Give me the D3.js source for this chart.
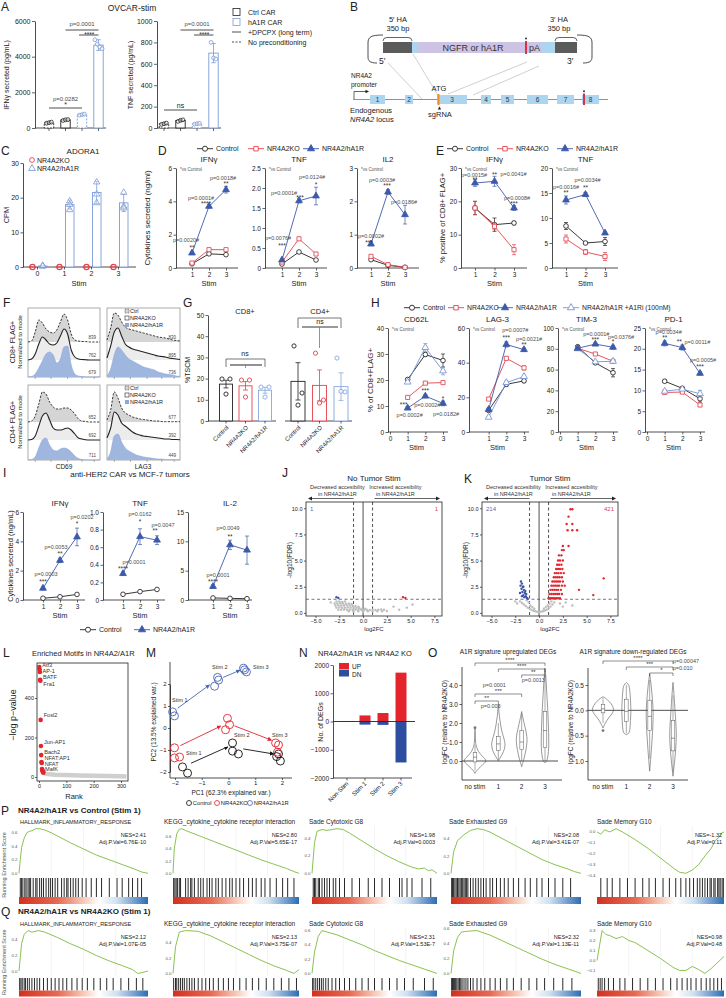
<!DOCTYPE html>
<html>
<head>
<meta charset="utf-8">
<title>NR4A2/hA1R CAR figure</title>
<script src="https://cdn.jsdelivr.net/npm/d3@7/dist/d3.min.js"></script>
<style>
  body { margin: 0; background: #fff; overflow: hidden; }
  svg text { font-family: "Liberation Sans", Arial, Helvetica, sans-serif; }
</style>
</head>
<body>
<script>
// ---------------- data ----------------
// A
const aCar = ["Ctrl CAR", "Ctrl CAR", "hA1R CAR", "hA1R CAR"];
const aCond = ["No preconditioning", "+DPCPX (long term)", "No preconditioning", "+DPCPX (long term)"];
const aIfnMean = [300, 450, 750, 4650];
const aIfnPts = [[270, 300, 330], [420, 460, 470], [720, 750, 780], [4950, 4700, 4550, 4450]];
const aIfnSd = [40, 35, 40, 300];
const aTnfMean = [40, 70, 40, 700];
const aTnfPts = [[34, 40, 46], [62, 72, 76], [36, 40, 44], [800, 655, 645]];
const aTnfSd = [8, 8, 6, 90];
// B (locus schematic, exon extents in locus units)
const bExons = [[17, 32], [52, 60], [84, 114], [128, 138], [148, 161], [174, 195], [204, 221], [229, 246]];
// C
const cStim = ["0", "1", "2", "3"];
const cKO = [0, 0, 0, 0];
const cA1R = [0.3, 18, 21.5, 18.5];
const cA1RPts = [[0.2, 0.3, 0.4], [19, 18, 16.5], [24.5, 21, 18.5], [21.5, 17.5, 17]];
const cA1RSd = [0.1, 1.3, 3.2, 2.5];
// D
const stims = [1, 2, 3];
const dIfn = [[0.25, 0.85, 0.8], [0.3, 1.1, 1.1], [0.9, 3.7, 4.7]];
const dTnf = [[0.1, 0.4, 0.2], [0.15, 0.73, 0.35], [0.2, 1.68, 1.8]];
const dIl2 = [[0.25, 0.08, 0.02], [0.35, 0.1, 0.02], [0.72, 2.28, 1.6]];
const dA1RSd = [[0.05, 0.1, 0.2], [0.03, 0.05, 0.22], [0.05, 0.07, 0.28]];
// E
const eIfn = [[18, 13, 13.5], [18, 12.5, 5.5], [25.5, 26, 18]];
const eTnf = [[8.4, 5, 5.3], [5.8, 3.2, 2.3], [13.6, 14.7, 7]];
const eIfnSd = [[2, 2, 0.5], [2, 1, 1.5], [1, 1.5, 0.7]];
const eTnfSd = [[0.7, 0.2, 0.8], [0.8, 0.5, 0.8], [0.8, 0.4, 0.3]];
// F (histogram heights, normalized to mode, 21 bins across the axis)
const fCD8_CD69 = [
  [0, 1, 10, 22, 19, 13, 10, 9, 12, 20, 28, 22, 8, 2, 1, 0.5, 0.5, 0, 0, 0, 0],
  [0, 1, 6, 16, 23, 20, 16, 15, 17, 24, 31, 26, 10, 3, 1, 0.5, 0.3, 0, 0, 0, 0],
  [0, 0.5, 3, 9, 16, 23, 25, 22, 14, 18, 30, 31, 12, 3, 1, 0.5, 0, 0, 0, 0, 0]];
const fCD8_LAG3 = [
  [2, 14, 29, 27, 20, 15, 13, 12, 11, 10, 9, 8, 7, 6, 5, 4.5, 4, 3, 2, 1.5, 1],
  [2, 14, 28, 32, 24, 16, 13, 11, 10, 9, 8, 7, 6, 5, 4, 3.5, 3, 2, 1.5, 1, 0.5],
  [1, 8, 22, 30, 27, 22, 18, 16, 14, 12, 10, 9, 8, 7, 5, 4, 3, 2.5, 2, 1, 0.5]];
const fCD4_CD69 = [
  [0, 1, 6, 18, 30, 28, 20, 15, 13, 13, 14, 14, 12, 8, 3, 1, 0.5, 0, 0, 0, 0],
  [0, 0.5, 4, 14, 24, 27, 20, 12, 10, 10, 11, 12, 10, 6, 2, 1, 0.3, 0, 0, 0, 0],
  [0, 0.5, 3, 12, 20, 22, 15, 10, 9, 11, 12, 11, 8, 4, 1.5, 0.5, 0, 0, 0, 0, 0]];
const fCD4_LAG3 = [
  [2, 12, 30, 24, 14, 9, 7, 5, 4, 3, 2.5, 2, 1.5, 1, 1, 0.5, 0.3, 0.3, 0.3, 0.3, 0.3],
  [2, 12, 28, 25, 17, 14, 11, 8, 6, 5, 4, 3.5, 3, 2.5, 2, 1.5, 1, 1, 0.5, 0.5, 0.3],
  [1, 8, 24, 26, 18, 12, 9, 7, 5, 4, 3, 2.5, 2, 1.5, 1, 1, 0.5, 0.3, 0.3, 0.3, 0.3]];
const fMFI = [["839", "762", "679"], ["830", "895", "736"], ["652", "692", "711"], ["677", "392", "449"]];
const fGroups = ["Ctrl", "NR4A2KO", "NR4A2/hA1R"];
// G
const gCats = ["Control", "NR4A2KO", "NR4A2/hA1R"];
const gCD8 = [17.4, 16.6, 14.5];
const gCD8Pts = [[19.8, 19.8, 12.7], [19.3, 19.3, 11.3], [16, 16, 11.3]];
const gCD8Sd = [1.8, 2, 1.4];
const gCD4 = [18.7, 16.8, 16.2];
const gCD4Pts = [[35.4, 13.2, 7.5], [32, 9.9, 8.5], [29.7, 13.7, 14]];
const gCD4Sd = [8.8, 7.3, 6.5];
// H
const hMarkers = ["CD62L", "LAG-3", "TIM-3", "PD-1"];
const hCtrl = [[20.2, 29.8, 27.5], [12.5, 27.5, 29.5], [82, 66.5, 57], [12.2, 10.5, 8]];
const hKO = [[13.3, 18.8, 19], [19, 42.5, 37], [80.5, 75, 68], [9.5, 9.6, 6.5]];
const hA1R = [[9.2, 13.8, 11], [13, 50.5, 47.5], [80.5, 84.5, 81.5], [21.3, 20.3, 14.1]];
const hA1Ri = [[19.2, 32.5, 23.5], [8.5, 28.5, 32], [80, 67.5, 68], [9.8, 10.3, 9.2]];
const hCtrlSd = [[0.5, 0.6, 2.5], [0.8, 1, 1], [1, 1, 4], [0.3, 0.3, 0.8]];
const hKOSd = [[0.4, 0.4, 0.4], [0.8, 0.8, 1.2], [1, 1, 1.5], [0.3, 0.3, 0.4]];
const hA1RSd = [[0.6, 0.6, 0.9], [1, 1.5, 1], [1, 1, 1.8], [0.6, 0.6, 0.4]];
const hA1RiSd = [[0.5, 1.5, 1.5], [0.5, 1, 1], [1, 1, 1], [0.3, 0.3, 0.8]];
const hYMax = [40, 60, 100, 25];
const hYTicks = [[0, 10, 20, 30, 40], [0, 20, 40, 60], [0, 20, 40, 60, 80, 100], [0, 5, 10, 15, 20, 25]];
// I
const iIfn = [[0.12, 0.22, 0.38], [0.8, 2.7, 4.3]];
const iTnf = [[0.065, 0.095, 0.12], [0.3, 0.72, 0.68]];
const iIl2 = [[0.35, 0.28, 0.22], [2.3, 9.4, 8.5]];
const iA1RSd = [[0.1, 0.15, 0.6], [0.02, 0.09, 0.05], [0.3, 0.8, 2.4]];
// J / K  ([log2FC, -log10 FDR])
const jGray = [[-2.8, 1.1], [-2.5, 1.1], [-2.2, 1.05], [-1.9, 1.1], [-3.0, 0.9], [-2.7, 0.9], [-2.4, 0.92], [-2.1, 0.9],
  [-1.8, 0.88], [-1.5, 0.9], [-1.2, 0.85], [-2.9, 0.7], [-2.6, 0.72], [-2.3, 0.7], [-2.0, 0.7], [-1.7, 0.72], [-1.4, 0.7],
  [-1.1, 0.68], [-0.8, 0.66], [-0.5, 0.6], [-2.8, 0.5], [-2.5, 0.52], [-2.2, 0.5], [-1.9, 0.5], [-1.6, 0.52], [-1.3, 0.5],
  [-1.0, 0.48], [-0.7, 0.46], [-0.4, 0.44], [-0.1, 0.4], [0.2, 0.4], [-2.6, 0.3], [-2.3, 0.3], [-2.0, 0.32], [-1.7, 0.3],
  [-1.4, 0.3], [-1.1, 0.28], [-0.8, 0.3], [-0.5, 0.28], [-0.2, 0.3], [0.1, 0.28], [0.4, 0.3], [0.7, 0.28], [1.0, 0.3],
  [1.3, 0.28], [1.6, 0.3], [1.9, 0.32], [2.2, 0.3], [-1.5, 0.15], [-1.0, 0.14], [-0.5, 0.15], [0, 0.13], [0.5, 0.15],
  [1.0, 0.14], [1.5, 0.16], [2.0, 0.15], [2.5, 0.18], [3.2, 0.6], [4.6, 0.5], [5.2, 0.8], [3.8, 0.3], [-3.4, 1.0]];
const jRed = [[4.2, 1.5], [4.45, 1.42]];
const jBlue = [[-2.8, 1.5], [-2.6, 1.42]];
const kRedRows = [[1.4, [1.0, 1.15, 1.3, 1.45, 1.6, 1.8, 2.0, 2.2]], [1.8, [1.1, 1.3, 1.5, 1.7, 1.9, 2.1, 2.4]],
  [2.2, [1.2, 1.4, 1.6, 1.8, 2.0, 2.3]], [2.6, [1.3, 1.5, 1.7, 1.9, 2.1, 2.4, 2.7]], [3.0, [1.4, 1.6, 1.8, 2.0, 2.2, 2.5]],
  [3.4, [1.55, 1.75, 1.95, 2.15, 2.4]], [3.8, [1.65, 1.85, 2.05, 2.3, 2.6]], [4.2, [1.8, 2.0, 2.2, 2.45]],
  [4.6, [1.9, 2.1, 2.35]], [5.0, [2.0, 2.2, 2.5]], [5.5, [2.1, 2.35]], [6.0, [2.4, 2.6]], [6.4, [2.5, 3.1]],
  [7.9, [3.0, 3.5, 4.0]], [8.5, [2.9, 3.5]], [9.2, [3.1]], [9.9, [3.3, 3.5]], [2.2, [4.2]], [1.7, [5.7]], [3.3, [6.8]]];
const kBlue = [[-1.9, 3.0], [-1.8, 2.8], [-1.95, 2.6], [-1.7, 2.5], [-1.85, 2.3], [-1.6, 2.2], [-1.75, 2.0], [-1.5, 1.9],
  [-1.65, 1.7], [-1.4, 1.6], [-1.55, 1.5], [-1.3, 1.45], [-1.2, 1.35], [-1.8, 1.6], [-1.45, 2.1], [-1.65, 2.5],
  [-2.0, 1.9], [-1.35, 1.8]];
const kGray = [[-2.3, 0.9], [-2.0, 1.1], [-1.8, 0.95], [-1.6, 0.8], [-1.4, 0.65], [-1.2, 0.5], [-1.0, 0.4], [-0.8, 0.3],
  [-0.6, 0.2], [-0.4, 0.15], [-0.2, 0.1], [0, 0.08], [0.2, 0.1], [0.4, 0.15], [0.6, 0.22], [0.8, 0.3], [1.0, 0.45],
  [1.2, 0.6], [1.4, 0.8], [1.6, 1.0], [1.3, 1.1], [1.1, 0.9], [-1.1, 1.0], [-1.3, 1.2], [2.2, 0.9], [3.5, 0.7],
  [2.8, 1.0], [-0.9, 0.7], [0.9, 0.7], [-0.5, 0.4], [0.5, 0.4], [-0.7, 0.55], [0.7, 0.55], [-2.5, 1.1], [2.5, 0.6]];
const jCounts = ["1", "1"];
const kCounts = ["214", "421"];
// L
const lMotifRanks = [1, 2, 3, 4, 5, 6, 7, 8, 9, 10, 11, 12, 13, 14, 15, 16];
const lMotifVals = [557, 545, 532, 492, 487, 289, 157, 111, 76, 71, 40, 35, 30, 28, 25, 22];
const lLabels = ["Atf3", "AP-1", "BATF", "Fra1", "Fosl2", "Jun-AP1", "Bach2", "NFAT:AP1", "NFAT", "MafK"];
const lLabelRanks = [1, 2, 4, 5, 6, 7, 8, 9, 10, 11];
const lBgRanks = [17, 30, 60, 100, 150, 200, 250, 300, 320];
const lBgVals = [20, 15, 12, 10, 8, 6, 5, 4, 3];
// M
const mCtrl = [[-1.72, -1.77], [-1.53, -2.05], [0.15, -0.68], [0.15, -1.05], [0.37, -1.18], [1.87, -1.18], [1.94, -1.5], [1.8, -1.3]];
const mKO = [[-2.02, -0.9], [-2.02, -1.36], [-1.83, -1.32], [-0.04, 0.44], [0.04, 0.15], [-0.11, -0.08], [1.76, -0.68], [1.87, -0.77], [1.83, -1.1]];
const mA1R = [[-2.09, 0.73], [-2.02, 0.55], [-0.52, 1.9], [-0.41, 2.3], [-0.37, 2.18], [0.56, 2.72], [0.67, 2.55], [0.6, 2.64]];
const mArrowsA1R = [[[-1.9, 0.9], [-0.72, 1.95]], [[-0.2, 2.3], [0.42, 2.62]]];
const mArrowsKO = [[[-1.8, -0.8], [-0.3, 0.08]], [[0.22, 0.1], [1.6, -0.55]]];
const mArrowsCtrl = [[[-1.4, -1.6], [-0.02, -0.85]], [[0.55, -0.95], [1.68, -1.18]]];
const mGroups = ["Control", "NR4A2KO", "NR4A2/hA1R"];
// N
const nCats = ["Non-Stim", "Stim 1", "Stim 2", "Stim 3"];
const nUp = [8, 215, 300, 1730];
const nDn = [-8, -110, -120, -1450];
// O  (violin outline: [logFC, relative density])
const oCats = ["no stim", "1", "2", "3"];
const oUpShapes = [
  [[-0.65, 0], [-0.5, 0.15], [-0.3, 0.5], [-0.1, 0.9], [0.0, 1.0], [0.1, 0.95], [0.2, 0.75], [0.35, 0.5], [0.5, 0.3], [0.7, 0.15], [0.9, 0.06], [1.2, 0.03], [1.5, 0.02], [1.7, 0]],
  [[0.0, 0], [0.2, 0.2], [0.5, 0.5], [0.8, 0.62], [1.0, 0.6], [1.3, 0.45], [1.6, 0.3], [2.0, 0.18], [2.4, 0.08], [2.8, 0.03], [3.0, 0]],
  [[-0.3, 0], [-0.1, 0.1], [0.2, 0.25], [0.6, 0.4], [1.0, 0.5], [1.3, 0.48], [1.6, 0.38], [2.0, 0.22], [2.3, 0.1], [2.6, 0]],
  [[-0.1, 0], [0.0, 0.2], [0.5, 0.33], [1.0, 0.35], [1.5, 0.33], [2.0, 0.3], [2.5, 0.27], [3.0, 0.22], [3.5, 0.17], [4.0, 0.12], [4.5, 0.07], [4.9, 0]]];
const oUpBox = [[-0.05, 0.2, 0.45, -0.5, 0.85], [0.55, 0.9, 1.3, 0.05, 2.0], [0.6, 1.0, 1.6, 0, 2.5], [0.7, 1.6, 2.6, 0, 4.8]];
const oDnShapes = [
  [[-0.35, 0], [-0.25, 0.2], [-0.15, 0.5], [-0.05, 0.9], [0.02, 1.0], [0.1, 0.85], [0.18, 0.55], [0.24, 0.25], [0.27, 0]],
  [[-0.48, 0], [-0.45, 0.3], [-0.3, 0.35], [-0.1, 0.4], [0.0, 0.42], [0.2, 0.38], [0.4, 0.32], [0.5, 0.25], [0.55, 0]],
  [[-1.2, 0], [-1.0, 0.08], [-0.7, 0.18], [-0.4, 0.28], [-0.1, 0.32], [0.1, 0.3], [0.3, 0.22], [0.5, 0.14], [0.72, 0]],
  [[-1.3, 0], [-1.1, 0.1], [-0.9, 0.2], [-0.6, 0.3], [-0.4, 0.3], [-0.2, 0.25], [0.0, 0.18], [0.3, 0.1], [0.55, 0]]];
const oDnBox = [[-0.05, 0.03, 0.12, -0.25, 0.25], [-0.22, -0.02, 0.22, -0.45, 0.5], [-0.4, -0.12, 0.2, -0.95, 0.6], [-0.8, -0.55, -0.2, -1.2, 0.3]];
const oUpOutlier = 1.75, oDnOutlier = -0.4;
// P / Q  (GSEA)
const gsNames = ["HALLMARK_INFLAMMATORY_RESPONSE", "KEGG_cytokine_cytokine receptor interaction", "Sade Cytotoxic G8", "Sade Exhausted G9", "Sade Memory G10"];
const pNES = ["2.41", "2.80", "1.98", "2.08", "-1.32"];
const pPadj = ["6.76E-10", "5.65E-17", "0.0003", "3.41E-07", "0.11"];
const qNES = ["2.12", "2.13", "2.31", "2.32", "0.98"];
const qPadj = ["1.07E-05", "3.75E-07", "1.53E-7", "1.13E-11", "0.48"];
const pCurves = [
  [[0, 0], [0.01, 0.2], [0.02, 0.38], [0.04, 0.52], [0.06, 0.6], [0.08, 0.62], [0.1, 0.63], [0.13, 0.66], [0.16, 0.66], [0.2, 0.64], [0.25, 0.6], [0.3, 0.55], [0.4, 0.45], [0.5, 0.36], [0.6, 0.27], [0.7, 0.2], [0.8, 0.13], [0.9, 0.06], [0.95, 0.02], [1, 0]],
  [[0, 0], [0.01, 0.4], [0.03, 0.65], [0.05, 0.72], [0.07, 0.73], [0.1, 0.7], [0.2, 0.62], [0.3, 0.54], [0.4, 0.46], [0.5, 0.38], [0.6, 0.3], [0.7, 0.22], [0.8, 0.15], [0.9, 0.08], [0.97, 0.02], [1, 0]],
  [[0, 0], [0.02, 0.35], [0.04, 0.48], [0.08, 0.5], [0.12, 0.49], [0.2, 0.51], [0.25, 0.5], [0.3, 0.46], [0.4, 0.37], [0.5, 0.28], [0.6, 0.2], [0.7, 0.13], [0.8, 0.07], [0.85, 0.05], [0.9, 0.06], [0.93, 0.03], [0.96, 0.04], [1, 0]],
  [[0, 0], [0.02, 0.25], [0.05, 0.38], [0.1, 0.45], [0.15, 0.5], [0.2, 0.52], [0.25, 0.51], [0.3, 0.48], [0.4, 0.4], [0.5, 0.32], [0.6, 0.24], [0.7, 0.16], [0.8, 0.1], [0.9, 0.05], [0.95, 0.02], [1, 0]],
  [[0, 0], [0.03, -0.02], [0.06, 0.02], [0.1, 0.0], [0.15, 0.03], [0.2, 0.0], [0.3, -0.07], [0.4, -0.15], [0.5, -0.24], [0.6, -0.33], [0.65, -0.37], [0.7, -0.38], [0.75, -0.35], [0.8, -0.3], [0.85, -0.22], [0.9, -0.15], [0.93, -0.08], [0.96, -0.05], [0.98, -0.01], [1, 0.0]]];
const qCurves = [
  [[0, 0], [0.02, 0.35], [0.04, 0.47], [0.07, 0.52], [0.1, 0.5], [0.15, 0.52], [0.2, 0.5], [0.3, 0.43], [0.4, 0.35], [0.5, 0.28], [0.6, 0.2], [0.7, 0.13], [0.8, 0.07], [0.88, 0.02], [0.92, -0.03], [0.95, -0.02], [1, 0]],
  [[0, 0], [0.02, 0.35], [0.05, 0.54], [0.1, 0.56], [0.2, 0.55], [0.3, 0.49], [0.4, 0.41], [0.5, 0.33], [0.6, 0.25], [0.7, 0.17], [0.8, 0.1], [0.9, 0.04], [0.96, 0.0], [1, 0.05]],
  [[0, 0], [0.02, 0.3], [0.05, 0.52], [0.08, 0.6], [0.12, 0.58], [0.2, 0.54], [0.3, 0.47], [0.4, 0.4], [0.5, 0.32], [0.6, 0.25], [0.7, 0.18], [0.8, 0.12], [0.9, 0.06], [1, 0]],
  [[0, 0], [0.02, 0.3], [0.05, 0.48], [0.08, 0.55], [0.12, 0.56], [0.2, 0.57], [0.3, 0.51], [0.4, 0.43], [0.5, 0.35], [0.6, 0.27], [0.7, 0.19], [0.8, 0.12], [0.9, 0.06], [1, 0]],
  [[0, 0], [0.02, 0.15], [0.04, 0.3], [0.07, 0.26], [0.1, 0.25], [0.15, 0.22], [0.2, 0.24], [0.25, 0.2], [0.3, 0.18], [0.4, 0.1], [0.5, 0.02], [0.6, -0.07], [0.65, -0.1], [0.7, -0.1], [0.75, -0.06], [0.8, -0.09], [0.85, -0.13], [0.9, -0.08], [0.95, -0.02], [1, 0.04]]];
const pHits = [
  [0.01, 0.02, 0.03, 0.045, 0.055, 0.07, 0.08, 0.09, 0.11, 0.13, 0.14, 0.16, 0.175, 0.19, 0.21, 0.23, 0.245, 0.26, 0.28, 0.3, 0.33, 0.35, 0.37, 0.38, 0.4, 0.42, 0.44, 0.46, 0.49, 0.52, 0.56, 0.6, 0.64, 0.7, 0.76, 0.8, 0.85, 0.88, 0.92, 0.95],
  [0.005, 0.015, 0.025, 0.035, 0.05, 0.06, 0.1, 0.12, 0.14, 0.15, 0.17, 0.2, 0.22, 0.24, 0.27, 0.29, 0.31, 0.34, 0.36, 0.39, 0.42, 0.45, 0.47, 0.5, 0.53, 0.56, 0.6, 0.63, 0.66, 0.7, 0.73, 0.77, 0.82, 0.87, 0.91, 0.96],
  [0.01, 0.02, 0.03, 0.05, 0.06, 0.08, 0.1, 0.12, 0.14, 0.17, 0.19, 0.22, 0.26, 0.32, 0.38, 0.45, 0.5, 0.56, 0.62, 0.7, 0.72, 0.76, 0.8, 0.88, 0.95],
  [0.005, 0.012, 0.02, 0.03, 0.04, 0.05, 0.06, 0.07, 0.08, 0.09, 0.1, 0.11, 0.12, 0.13, 0.15, 0.17, 0.19, 0.21, 0.23, 0.25, 0.27, 0.3, 0.32, 0.35, 0.38, 0.41, 0.44, 0.48, 0.52, 0.57, 0.61, 0.66, 0.7, 0.75, 0.8, 0.86, 0.92],
  [0.03, 0.08, 0.12, 0.18, 0.24, 0.3, 0.36, 0.41, 0.46, 0.52, 0.57, 0.62, 0.66, 0.7, 0.73, 0.76, 0.79, 0.81, 0.83, 0.85, 0.87, 0.89, 0.9, 0.92, 0.93, 0.95, 0.96, 0.97, 0.985, 0.995]];
const qHits = [
  [0.005, 0.015, 0.025, 0.04, 0.05, 0.065, 0.08, 0.1, 0.12, 0.14, 0.16, 0.19, 0.22, 0.25, 0.28, 0.31, 0.34, 0.37, 0.41, 0.45, 0.49, 0.53, 0.58, 0.63, 0.68, 0.73, 0.79, 0.85, 0.91, 0.96],
  [0.005, 0.02, 0.03, 0.045, 0.06, 0.075, 0.09, 0.11, 0.13, 0.15, 0.17, 0.2, 0.23, 0.26, 0.29, 0.32, 0.36, 0.4, 0.44, 0.48, 0.53, 0.58, 0.63, 0.68, 0.74, 0.8, 0.86, 0.92, 0.98],
  [0.005, 0.015, 0.03, 0.045, 0.06, 0.075, 0.09, 0.11, 0.13, 0.16, 0.19, 0.22, 0.26, 0.3, 0.35, 0.4, 0.45, 0.5, 0.56, 0.62, 0.68, 0.74, 0.81, 0.9, 0.97],
  [0.005, 0.012, 0.02, 0.028, 0.036, 0.045, 0.055, 0.065, 0.075, 0.085, 0.1, 0.115, 0.13, 0.15, 0.17, 0.2, 0.23, 0.26, 0.3, 0.34, 0.38, 0.43, 0.48, 0.54, 0.6, 0.66, 0.72, 0.79, 0.86, 0.93],
  [0.01, 0.025, 0.04, 0.06, 0.09, 0.13, 0.18, 0.22, 0.28, 0.34, 0.4, 0.46, 0.52, 0.58, 0.63, 0.67, 0.71, 0.74, 0.78, 0.82, 0.86, 0.89, 0.92, 0.95, 0.98]];

// ---------------- setup ----------------
const FONT = '"Liberation Sans", Arial, Helvetica, sans-serif';
const INK = "#222", RED = "#e3434d", BLUE = "#3d5aa9", LBLUE = "#7593d4", PG = "#4d4d4d";
const ABLUE = "#7c9bd7";
const fmtInt = d3.format("d");
const svg = d3.select("body").append("svg").attr("width", 726).attr("height", 998)
  .attr("font-family", FONT);

function T(x, y, s, o = {}) {
  const t = svg.append("text").attr("x", x).attr("y", y).text(s)
    .attr("font-size", o.fs || 7).attr("text-anchor", o.a || "start").attr("fill", o.c || INK);
  if (o.b) t.attr("font-weight", "bold");
  if (o.it) t.attr("font-style", "italic");
  if (o.rot) t.attr("transform", `rotate(${o.rot},${x},${y})`);
  return t;
}
function L(x1, y1, x2, y2, c = INK, w = 0.8, dash = null) {
  return svg.append("line").attr("x1", x1).attr("y1", y1).attr("x2", x2).attr("y2", y2)
    .attr("stroke", c).attr("stroke-width", w).attr("stroke-dasharray", dash);
}
function styleAxis(a, fs) {
  a.attr("font-family", FONT).attr("font-size", fs);
  a.selectAll("text").attr("fill", INK);
  a.selectAll(".tick line").attr("stroke", INK).attr("stroke-width", 0.7);
  a.select(".domain").attr("stroke", INK).attr("stroke-width", 0.8);
  return a;
}
function sym(m) { return { circle: d3.symbolCircle, square: d3.symbolSquare, tri: d3.symbolTriangle }[m]; }
function errPath(cx, lo, hi, cap = 2) { return `M${cx},${lo}V${hi}M${cx - cap},${hi}h${2 * cap}M${cx - cap},${lo}h${2 * cap}`; }
function label(x, y, s) { T(x, y, s, { fs: 12 }); }

function linePanel(o) {
  const g = svg.append("g");
  const y = d3.scaleLinear().domain([0, o.yMax]).range([o.yBot, o.yTop]);
  const x = d3.scaleLinear().domain(o.xDom).range(o.xRng);
  styleAxis(g.append("g").attr("transform", `translate(${o.ax},0)`)
    .call(d3.axisLeft(y).tickValues(o.yTicks).tickSize(2.5).tickSizeOuter(0).tickPadding(1.5)
      .tickFormat(o.fmt || (d => d))), 6.5);
  g.append("line").attr("x1", o.ax).attr("x2", o.ax + o.xLen).attr("y1", o.yBot).attr("y2", o.yBot)
    .attr("stroke", INK).attr("stroke-width", 0.8);
  const xa = g.append("g").attr("transform", `translate(0,${o.yBot})`)
    .call(d3.axisBottom(x).tickValues(o.xTicks).tickSize(2.5).tickSizeOuter(0).tickPadding(1.5).tickFormat(d => d));
  xa.select(".domain").remove();
  styleAxis(xa, 6.5);
  o.series.forEach(s => {
    const pts = s.v.map((v, i) => ({ s: stims[i], v, e: s.e ? s.e[i] : 0 }));
    g.append("path").datum(pts).attr("fill", "none").attr("stroke", s.c).attr("stroke-width", 0.9)
      .attr("d", d3.line().x(d => x(d.s)).y(d => y(d.v)));
    g.selectAll(null).data(pts.filter(d => d.e > 0)).join("path")
      .attr("d", d => errPath(x(d.s), y(d.v - d.e), y(d.v + d.e)))
      .attr("stroke", s.c).attr("stroke-width", 0.7).attr("fill", "none");
    g.selectAll(null).data(pts).join("path")
      .attr("d", d3.symbol(sym(s.m), s.m === "tri" ? 20 : 17))
      .attr("transform", d => `translate(${x(d.s)},${y(d.v)})`)
      .attr("fill", s.f ? s.c : "white").attr("stroke", s.c).attr("stroke-width", 0.85);
  });
  const cx = (o.xRng[0] + o.xRng[1]) / 2;
  if (o.title) T(cx, o.yTop - 6, o.title, { fs: 8, a: "middle" });
  T(cx, o.yBot + o.stimDy, "Stim", { fs: 7.5, a: "middle" });
  if (o.vs) T(o.ax + 4, o.yTop + 2.5, "*vs Control", { fs: 4.5, c: "#555" });
  return { x, y };
}
function ann(p, s, v, txt, dx, dy, star) {
  T(p.x(s) + dx, p.y(v) + dy, txt, { fs: star ? 6.5 : 5.5, a: "middle", c: star ? "#333" : PG });
}
function legendItem(x, y, txt, c, m, filled, fs = 7) {
  L(x, y - 2.3, x + 16, y - 2.3, c, 0.9);
  svg.append("path").attr("d", d3.symbol(sym(m), m === "tri" ? 22 : 20)())
    .attr("transform", `translate(${x + 8},${y - 2.3})`)
    .attr("fill", filled ? c : "white").attr("stroke", c).attr("stroke-width", 0.9);
  T(x + 19, y, txt, { fs });
}

// ---------------- A ----------------
label(1, 11, "A");
T(132, 11, "OVCAR-stim", { fs: 8.5, a: "middle" });
function barsA(o) {
  const y = d3.scaleLinear().domain([0, o.ymax]).range([128, 21]);
  const x = d3.scalePoint().domain(d3.range(o.mean.length)).range([o.ax + o.pad, o.ax + o.pad + 49.5]);
  const g = svg.append("g");
  styleAxis(g.append("g").attr("transform", `translate(${o.ax},0)`)
    .call(d3.axisLeft(y).tickValues(o.ticks).tickFormat(fmtInt).tickSize(3).tickSizeOuter(0).tickPadding(1.5)), 7);
  g.append("line").attr("x1", o.ax).attr("x2", o.ax + o.pad + 57).attr("y1", 128).attr("y2", 128)
    .attr("stroke", INK).attr("stroke-width", 0.8);
  const col = i => aCar[i] === "Ctrl CAR" ? INK : ABLUE;
  const dash = i => aCond[i] === "No preconditioning" ? "2,1.3" : null;
  g.selectAll(null).data(o.mean).join("line")
    .attr("x1", (d, i) => x(i)).attr("x2", (d, i) => x(i)).attr("y1", 128).attr("y2", 131)
    .attr("stroke", INK).attr("stroke-width", 0.7);
  g.selectAll(null).data(o.mean).join("rect")
    .attr("x", (d, i) => x(i) - 4.7).attr("y", d => y(d)).attr("width", 9.4).attr("height", d => 128 - y(d))
    .attr("fill", "white").attr("stroke", (d, i) => col(i)).attr("stroke-width", 0.9)
    .attr("stroke-dasharray", (d, i) => dash(i));
  g.selectAll(null).data(o.mean).join("path")
    .attr("d", (d, i) => errPath(x(i), y(d - o.sd[i]), y(d + o.sd[i]), 2.3))
    .attr("stroke", (d, i) => col(i)).attr("stroke-width", 0.8).attr("fill", "none");
  const pts = o.pts.flatMap((arr, i) => arr.map((v, j) => ({ i, v, dx: (j - (arr.length - 1) / 2) * 2.4 })));
  g.selectAll(null).data(pts).join("circle")
    .attr("cx", d => x(d.i) + d.dx).attr("cy", d => y(d.v)).attr("r", 1.9)
    .attr("fill", "white").attr("fill-opacity", 0.6).attr("stroke", d => col(d.i)).attr("stroke-width", 0.8);
  T(o.labX, 75, o.lab, { rot: -90, a: "middle", fs: 7 });
  return { x, y };
}
const sA1 = barsA({ ax: 35, pad: 14, mean: aIfnMean, pts: aIfnPts, sd: aIfnSd, ymax: 6000, ticks: [0, 2000, 4000, 6000], lab: "IFNγ secreted (pg/mL)", labX: 9 });
const sA2 = barsA({ ax: 157, pad: 7, mean: aTnfMean, pts: aTnfPts, sd: aTnfSd, ymax: 1000, ticks: [0, 200, 400, 600, 800, 1000], lab: "TNF secreted (pg/mL)", labX: 133 });
L(sA1.x(0), 108, sA1.x(2), 108);
T((sA1.x(0) + sA1.x(2)) / 2, 107, "*", { fs: 7, a: "middle" });
T((sA1.x(0) + sA1.x(2)) / 2, 101, "p=0.0282", { fs: 6, a: "middle", c: PG });
[sA1, sA2].forEach(s => {
  L(s.x(1), 30, s.x(3), 30);
  L(s.x(2) - 3, 35, s.x(3), 35);
  T((s.x(1) + s.x(3)) / 2, 26, "p=0.0001", { fs: 6, a: "middle", c: PG });
  T((s.x(2) + s.x(3)) / 2 - 1, 37, "****", { fs: 6.5, a: "middle" });
});
L(sA2.x(0), 110, sA2.x(2), 110);
T((sA2.x(0) + sA2.x(2)) / 2, 107.5, "ns", { fs: 7, a: "middle" });
svg.append("rect").attr("x", 233).attr("y", 8.5).attr("width", 7).attr("height", 7).attr("fill", "white").attr("stroke", INK).attr("stroke-width", 0.8);
svg.append("rect").attr("x", 233).attr("y", 18.5).attr("width", 7).attr("height", 7).attr("fill", "white").attr("stroke", ABLUE).attr("stroke-width", 0.8);
T(248, 14.5, "Ctrl CAR"); T(248, 24.5, "hA1R CAR");
L(232, 32, 241, 32); T(248, 34.5, "+DPCPX (long term)");
L(232, 42, 241, 42, INK, 0.8, "2,1.5"); T(248, 44.5, "No preconditioning");

// ---------------- B ----------------
label(350, 11, "B");
{
  const bx = d3.scaleLinear().domain([0, 194]).range([383, 577]);
  const seg = [[0, 29, "#5b5b5b"], [29, 34, "#acd6ef"], [34, 159, "#cdc3e4"], [159, 172, "#acd6ef"], [172, 194, "#5b5b5b"]];
  seg.forEach(s => svg.append("rect").attr("x", bx(s[0])).attr("y", 42).attr("width", bx(s[1]) - bx(s[0])).attr("height", 11).attr("fill", s[2]));
  T(bx(90), 51, "NGFR or hA1R", { fs: 9, a: "middle", c: "#333" });
  svg.append("rect").attr("x", bx(143) - 1).attr("y", 41).attr("width", 2).attr("height", 13).attr("fill", "#d8334a");
  svg.append("circle").attr("cx", bx(143)).attr("cy", 38.5).attr("r", 1).attr("fill", "#333");
  T(bx(146), 51, "pA", { fs: 9, c: "#333" });
  const brace = (a, b) => `M${a},41 Q${a},37.5 ${a + 4},37.5 L${b - 4},37.5 Q${b},37.5 ${b},41`;
  svg.append("path").attr("d", brace(bx(0), bx(29))).attr("fill", "none").attr("stroke", INK).attr("stroke-width", 0.7);
  svg.append("path").attr("d", brace(bx(172), bx(194))).attr("fill", "none").attr("stroke", INK).attr("stroke-width", 0.7);
  svg.append("path").attr("d", "M383,35 C371,35 368,37 368,43 L368,57 C368,61 370,63 377,63").attr("fill", "none").attr("stroke", INK).attr("stroke-width", 0.8);
  svg.append("path").attr("d", "M577,35 C589,35 592,37 592,43 L592,57 C592,61 590,63 583,63").attr("fill", "none").attr("stroke", INK).attr("stroke-width", 0.8);
  T(398, 22, "5′ HA", { fs: 7.5, a: "middle" }); T(398, 31, "350 bp", { fs: 7.5, a: "middle" });
  T(559, 22, "3′ HA", { fs: 7.5, a: "middle" }); T(559, 31, "350 bp", { fs: 7.5, a: "middle" });
  T(379, 64, "5′", { fs: 8.5 }); T(567, 64, "3′", { fs: 8.5 });
  L(388, 63, 422, 99, "#b0b0b0", 0.6); L(413, 54, 439, 97, "#b0b0b0", 0.6);
  L(527, 62, 448, 94, "#b0b0b0", 0.6); L(539, 66, 473, 95, "#b0b0b0", 0.6);
  const lx = d3.scaleLinear().domain([0, 255]).range([353, 608]);
  L(lx(0), 99.5, lx(255), 99.5, "#777", 0.8);
  svg.selectAll(null).data(bExons).join("rect").attr("x", d => lx(d[0])).attr("y", 95).attr("width", d => lx(d[1]) - lx(d[0])).attr("height", 9).attr("fill", "#acd6ef");
  svg.selectAll(null).data(bExons).join("text").attr("x", d => (lx(d[0]) + lx(d[1])) / 2).attr("y", 102.3)
    .attr("text-anchor", "middle").attr("font-size", 6.5).attr("fill", "#333").text((d, i) => i + 1);
  svg.append("rect").attr("x", lx(bExons[2][0]) + 0.5).attr("y", 94).attr("width", 2).attr("height", 11).attr("fill", "#f08a24");
  svg.append("rect").attr("x", lx(bExons[7][0]) + 1).attr("y", 93.5).attr("width", 2).attr("height", 11.5).attr("fill", "#d8334a");
  svg.append("circle").attr("cx", lx(bExons[7][0]) + 2).attr("cy", 91.3).attr("r", 1).attr("fill", "#333");
  svg.append("path").attr("d", "M354,99 V91.5 H366").attr("fill", "none").attr("stroke", INK).attr("stroke-width", 0.7);
  svg.append("path").attr("d", "M369,91.5 L365.5,89.8 L365.5,93.2 Z").attr("fill", INK);
  T(351, 78, "NR4A2", { fs: 6.5 }); T(351, 86.5, "promoter", { fs: 6.5 });
  T(439, 91, "ATG", { fs: 7.5, a: "middle" });
  svg.append("path").attr("d", "M439.5,106.5 L437.8,109.5 L441.2,109.5 Z").attr("fill", INK);
  T(440, 117, "sgRNA", { fs: 7.5, a: "middle" });
  T(350, 113, "Endogenous", { fs: 7.5 });
  const lt = T(350, 122, "", { fs: 7.5 });
  lt.append("tspan").attr("font-style", "italic").text("NR4A2");
  lt.append("tspan").text(" locus");
}

// ---------------- C ----------------
label(1, 155, "C");
T(83, 154, "ADORA1", { fs: 8, a: "middle" });
{
  const x = d3.scaleBand().domain(cStim).range([24, 132]);
  const y = d3.scaleLinear().domain([0, 30]).range([267, 163]);
  styleAxis(svg.append("g").attr("transform", "translate(23,0)").call(d3.axisLeft(y).tickValues([0, 10, 20, 30]).tickSize(2.5).tickSizeOuter(0).tickPadding(1.5)), 7);
  const xa = svg.append("g").attr("transform", "translate(0,267)").call(d3.axisBottom(x).tickSize(2.5).tickSizeOuter(0).tickPadding(1.5));
  xa.select(".domain").remove(); styleAxis(xa, 7);
  L(23, 267, 136, 267);
  const c = d => x(d) + x.bandwidth() / 2;
  svg.selectAll(null).data(cStim).join("rect").attr("x", d => c(d) + 1).attr("width", 8.5)
    .attr("y", (d, i) => y(cA1R[i])).attr("height", (d, i) => 267 - y(cA1R[i]))
    .attr("fill", "white").attr("stroke", ABLUE).attr("stroke-width", 0.9);
  svg.selectAll(null).data(cStim).join("path").attr("d", (d, i) => errPath(c(d) + 5.2, y(cA1R[i] - cA1RSd[i]), y(cA1R[i] + cA1RSd[i])))
    .attr("stroke", ABLUE).attr("stroke-width", 0.8).attr("fill", "none");
  const bp = cA1RPts.flatMap((a, i) => a.map(v => ({ s: cStim[i], v })));
  svg.selectAll(null).data(bp).join("path").attr("d", d3.symbol(d3.symbolTriangle, 18))
    .attr("transform", d => `translate(${c(d.s) + 5.2},${y(d.v)})`).attr("fill", "white").attr("fill-opacity", 0.3)
    .attr("stroke", ABLUE).attr("stroke-width", 0.8);
  svg.selectAll(null).data(cStim).join("circle").attr("cx", d => c(d) - 5).attr("cy", (d, i) => y(cKO[i])).attr("r", 2.6)
    .attr("fill", "none").attr("stroke", RED).attr("stroke-width", 1.2);
  svg.selectAll(null).data(cStim).join("line").attr("x1", d => c(d) - 9).attr("x2", d => c(d) - 1)
    .attr("y1", (d, i) => y(cKO[i])).attr("y2", (d, i) => y(cKO[i])).attr("stroke", RED).attr("stroke-width", 1);
  svg.append("circle").attr("cx", 32).attr("cy", 160).attr("r", 2.4).attr("fill", "white").attr("stroke", RED).attr("stroke-width", 0.9);
  T(37, 162.5, "NR4A2KO");
  svg.append("path").attr("d", d3.symbol(d3.symbolTriangle, 20)()).attr("transform", "translate(32,168.5)").attr("fill", "white").attr("stroke", ABLUE).attr("stroke-width", 0.9);
  T(37, 171, "NR4A2/hA1R");
  T(9, 215, "CPM", { rot: -90, a: "middle", fs: 7.5 });
  T(79, 286, "Stim", { fs: 7.5, a: "middle" });
}

// ---------------- D ----------------
label(158, 155, "D");
legendItem(197, 151, "Control", INK, "circle", false);
legendItem(248, 151, "NR4A2KO", RED, "square", false);
legendItem(303, 151, "NR4A2/hA1R", BLUE, "tri", true);
const fmt1 = d => d === 0 ? "0" : d3.format(".1f")(d);
const dSeries = (arr, sd) => [
  { v: arr[0], c: INK, m: "circle" }, { v: arr[1], c: RED, m: "square" }, { v: arr[2], e: sd, c: BLUE, m: "tri", f: true }];
const dP = [
  linePanel({ ax: 176, yTop: 168, yBot: 268, yMax: 6, yTicks: [0, 2, 4, 6], xDom: [1, 3], xRng: [192, 226], xTicks: stims, xLen: 62, title: "IFNγ", stimDy: 18, vs: true, series: dSeries(dIfn, dA1RSd[0]) }),
  linePanel({ ax: 265, yTop: 168, yBot: 268, yMax: 2.5, yTicks: [0, 0.5, 1, 1.5, 2, 2.5], fmt: fmt1, xDom: [1, 3], xRng: [282, 316], xTicks: stims, xLen: 62, title: "TNF", stimDy: 18, vs: true, series: dSeries(dTnf, dA1RSd[1]) }),
  linePanel({ ax: 357, yTop: 168, yBot: 268, yMax: 3, yTicks: [0, 1, 2, 3], xDom: [1, 3], xRng: [371, 405], xTicks: stims, xLen: 62, title: "IL2", stimDy: 18, vs: true, series: dSeries(dIl2, dA1RSd[2]) })];
T(150, 218, "Cytokines secreted (ng/ml)", { rot: -90, a: "middle", fs: 8 });
ann(dP[0], 1, 0.9, "p=0.0020#", -6, -11); ann(dP[0], 1, 0.9, "**", 0, -3, 1);
ann(dP[0], 2, 3.7, "p=0.0001#", -8, -6); ann(dP[0], 2, 3.7, "****", -3, 0, 1);
ann(dP[0], 3, 4.7, "p=0.0018#", -3, -10); ann(dP[0], 3, 4.7, "**", 0, -4, 1);
ann(dP[1], 1, 0.2, "p=0.0076#", -4, -20); ann(dP[1], 1, 0.2, "***", 0, -12, 1);
ann(dP[1], 2, 1.68, "p=0.0001#", -15, -6); ann(dP[1], 2, 1.68, "***", 1, -1, 1);
ann(dP[1], 3, 1.8, "p=0.0124#", -4, -17); ann(dP[1], 3, 1.8, "*", 0, -9, 1);
ann(dP[2], 1, 0.72, "p=0.0002#", 0, -6); ann(dP[2], 1, 0.72, "***", -2, 1, 1);
ann(dP[2], 2, 2.28, "p=0.0003#", -6, -10); ann(dP[2], 2, 2.28, "***", -1, -4, 1);
ann(dP[2], 3, 1.6, "p=0.0186#", -1, -11);

// ---------------- E ----------------
label(436, 155, "E");
legendItem(447, 151, "Control", INK, "circle", false);
legendItem(497, 151, "NR4A2KO", RED, "square", false);
legendItem(557, 151, "NR4A2/hA1R", BLUE, "tri", true);
const eSeries = (arr, sd) => [
  { v: arr[0], e: sd[0], c: INK, m: "circle" }, { v: arr[1], e: sd[1], c: RED, m: "square" }, { v: arr[2], e: sd[2], c: BLUE, m: "tri", f: true }];
const eP = [
  linePanel({ ax: 461, yTop: 168, yBot: 268, yMax: 30, yTicks: [0, 10, 20, 30], xDom: [1, 3], xRng: [475, 514], xTicks: stims, xLen: 66, title: "IFNγ", stimDy: 18, vs: true, series: eSeries(eIfn, eIfnSd) }),
  linePanel({ ax: 552, yTop: 168, yBot: 268, yMax: 20, yTicks: [0, 5, 10, 15, 20], xDom: [1, 3], xRng: [566, 605], xTicks: stims, xLen: 66, title: "TNF", stimDy: 18, vs: true, series: eSeries(eTnf, eTnfSd) })];
T(445, 218, "% positive of CD8+ FLAG+", { rot: -90, a: "middle", fs: 7.5 });
ann(eP[0], 1, 25.5, "p=0.0015#", -1, -6); ann(eP[0], 1, 25.5, "**", 0, -1.5, 1);
ann(eP[0], 2, 26, "p=0.0041#", 19, -5); ann(eP[0], 2, 26, "**", 0, -4, 1);
ann(eP[0], 3, 18, "p=0.0008#", 3, -8); ann(eP[0], 3, 18, "***", 0, -2, 1);
ann(eP[1], 1, 13.6, "p=0.0016#", 0, -11); ann(eP[1], 1, 13.6, "**", 0, -5, 1);
ann(eP[1], 2, 14.7, "p=0.0034#", 2, -13); ann(eP[1], 2, 14.7, "**", 0, -5, 1);

// ---------------- F ----------------
label(3, 307, "F");
function histBox(x0, x1, yTop, yBot, bases, curves, mfi, legendY) {
  svg.append("rect").attr("x", x0).attr("y", yTop).attr("width", x1 - x0).attr("height", yBot - yTop)
    .attr("fill", "white").attr("stroke", "#888").attr("stroke-width", 0.7);
  const hx = d3.scaleLinear().domain([0, 20]).range([x0, x1]);
  const styles = [
    { fill: "#d5d5d5", stroke: INK, dash: "2.2,1.4", w: 0.9 },
    { fill: "#ececec", stroke: INK, dash: null, w: 1.1 },
    { fill: "#9fb6df", stroke: "#8ea7d8", dash: null, w: 0.6 }];
  curves.forEach((c, k) => {
    const hy = d3.scaleLinear().domain([0, 35]).range([bases[k], bases[k] - 35]);
    const area = d3.area().x((d, i) => hx(i)).y0(bases[k]).y1(d => hy(d)).curve(d3.curveMonotoneX);
    svg.append("path").attr("d", area(c)).attr("fill", styles[k].fill);
    svg.append("path").attr("d", area.lineY1()(c)).attr("fill", "none").attr("stroke", styles[k].stroke)
      .attr("stroke-width", styles[k].w).attr("stroke-dasharray", styles[k].dash);
    T(x1 - 4, bases[k] - 3, mfi[k], { fs: 4.5, a: "end", c: "#444" });
  });
  [0.1, 0.32, 0.55, 0.75, 0.92].forEach(f => L(x0 + f * (x1 - x0), yBot, x0 + f * (x1 - x0), yBot + 2, "#666", 0.5));
  if (legendY) {
    const ly = legendY;
    svg.append("rect").attr("x", x0 + 18).attr("y", ly - 4).attr("width", 4).attr("height", 4).attr("fill", "#d5d5d5").attr("stroke", INK).attr("stroke-width", 0.5).attr("stroke-dasharray", "1,0.6");
    svg.append("rect").attr("x", x0 + 18).attr("y", ly + 3).attr("width", 4).attr("height", 4).attr("fill", "white").attr("stroke", INK).attr("stroke-width", 0.6);
    svg.append("rect").attr("x", x0 + 18).attr("y", ly + 10).attr("width", 4).attr("height", 4).attr("fill", "#8ea7d8");
    fGroups.forEach((gname, i) => T(x0 + 23, ly + i * 7, gname, { fs: 5.5 }));
  }
}
histBox(28, 100, 308, 377, [342, 360, 377], fCD8_CD69, fMFI[0]);
histBox(107, 180, 308, 377, [342, 360, 377], fCD8_LAG3, fMFI[1], 313);
histBox(28, 100, 385, 460, [422, 440, 460], fCD4_CD69, fMFI[2]);
histBox(107, 180, 385, 460, [422, 440, 460], fCD4_LAG3, fMFI[3], 390);
T(15, 342, "CD8+ FLAG+", { rot: -90, a: "middle", fs: 7 });
T(22, 342, "Normalized to mode", { rot: -90, a: "middle", fs: 6 });
T(15, 422, "CD4+ FLAG+", { rot: -90, a: "middle", fs: 7 });
T(22, 422, "Normalized to mode", { rot: -90, a: "middle", fs: 6 });
T(64, 469, "CD69", { fs: 6.5, a: "middle" });
T(143, 469, "LAG3", { fs: 6.5, a: "middle" });

// ---------------- G ----------------
label(183, 307, "G");
{
  const y = d3.scaleLinear().domain([0, 50]).range([421, 315]);
  styleAxis(svg.append("g").attr("transform", "translate(208,0)").call(d3.axisLeft(y).tickValues([0, 10, 20, 30, 40, 50]).tickSize(2.5).tickSizeOuter(0).tickPadding(1.5)), 6.5);
  const cols = [INK, RED, "#86a7dd"];
  function bars(x, mean, pts, sd, w) {
    svg.selectAll(null).data(gCats).join("rect").attr("x", d => x(d) - w / 2).attr("width", w)
      .attr("y", (d, i) => y(mean[i])).attr("height", (d, i) => 421 - y(mean[i]))
      .attr("fill", "white").attr("stroke", (d, i) => cols[i]).attr("stroke-width", 0.9);
    svg.selectAll(null).data(gCats).join("path").attr("d", (d, i) => errPath(x(d), y(mean[i] - sd[i]), y(mean[i] + sd[i]), 2.5))
      .attr("stroke", (d, i) => cols[i]).attr("stroke-width", 0.8).attr("fill", "none");
    const p = pts.flatMap((a, i) => a.map((v, j) => ({ i, v, dx: [-4, 4, 0][j] })));
    svg.selectAll(null).data(p).join("circle").attr("cx", d => x(gCats[d.i]) + d.dx).attr("cy", d => y(d.v)).attr("r", 2.1)
      .attr("fill", "white").attr("fill-opacity", 0.6).attr("stroke", d => cols[d.i]).attr("stroke-width", 0.9);
    gCats.forEach(c => {
      L(x(c), 421, x(c), 423.5, INK, 0.7);
      T(x(c) + 3, 428, c, { fs: 6, a: "end", rot: -45 });
    });
  }
  const x8 = d3.scalePoint().domain(gCats).range([226, 265]);
  const x4 = d3.scalePoint().domain(gCats).range([298, 341]);
  L(208, 421, 276, 421); L(285, 421, 352, 421);
  bars(x8, gCD8, gCD8Pts, gCD8Sd, 13);
  bars(x4, gCD4, gCD4Pts, gCD4Sd, 14);
  T(245, 314, "CD8+", { fs: 7.5, a: "middle" });
  T(320, 314, "CD4+", { fs: 7.5, a: "middle" });
  T(190, 370, "%TSCM", { rot: -90, a: "middle", fs: 7 });
  const br = (a, b, yy, d1, d2) => svg.append("path").attr("d", `M${a},${yy + d1}V${yy}H${b}V${yy + d2}`).attr("fill", "none").attr("stroke", "#555").attr("stroke-width", 0.8);
  br(x8("Control"), x8("NR4A2/hA1R"), 359, 8, 8);
  L(x8("Control") + 4, 365, x8("NR4A2/hA1R") - 3, 365, "#777", 1.6);
  L(x8("NR4A2KO"), 365, x8("NR4A2KO"), 368, "#777", 0.8);
  T(245, 356, "ns", { fs: 7, a: "middle" });
  br(x4("Control"), x4("NR4A2/hA1R"), 318, 10, 10);
  L(x4("Control") + 4, 327, x4("NR4A2/hA1R") - 3, 327, "#777", 1.6);
  L(x4("NR4A2KO"), 327, x4("NR4A2KO"), 348, "#777", 0.8);
  T(320, 324, "ns", { fs: 7, a: "middle" });
}

// ---------------- H ----------------
label(371, 307, "H");
legendItem(404, 310, "Control", INK, "circle", false, 6.8);
legendItem(448, 310, "NR4A2KO", RED, "square", false, 6.8);
legendItem(497, 310, "NR4A2/hA1R", BLUE, "tri", true, 6.8);
legendItem(563, 310, "NR4A2/hA1R +A1Ri (100nM)", LBLUE, "tri", false, 6.8);
const hAx = [388, 469, 558, 645];
const hP = hMarkers.map((mk, k) => linePanel({
  ax: hAx[k], yTop: 328, yBot: 432, yMax: hYMax[k], yTicks: hYTicks[k], xDom: [0, 3], xRng: [hAx[k] + 2, hAx[k] + 55],
  xTicks: k === 1 ? [1, 2, 3] : [0, 1, 2, 3], xLen: 60, title: mk, stimDy: 18, vs: true,
  series: [{ v: hCtrl[k], e: hCtrlSd[k], c: INK, m: "circle" }, { v: hKO[k], e: hKOSd[k], c: RED, m: "square" },
    { v: hA1Ri[k], e: hA1RiSd[k], c: LBLUE, m: "tri" }, { v: hA1R[k], e: hA1RSd[k], c: BLUE, m: "tri", f: true }]
}));
T(373, 380, "% of CD8+FLAG+", { rot: -90, a: "middle", fs: 8 });
ann(hP[0], 1, 9.2, "***", -4, -1, 1); ann(hP[0], 1, 9.2, "p=0.0002#", 2, 9);
ann(hP[0], 2, 13.8, "***", 0, -3, 1); ann(hP[0], 2, 13.8, "p=0.0002#", 2, 11);
ann(hP[0], 3, 11, "*", 0, -2, 1); ann(hP[0], 3, 11, "p=0.0182#", 3, 13);
ann(hP[1], 2, 50.5, "p=0.0007#", 9, -12); ann(hP[1], 2, 50.5, "***", 0, -4, 1);
ann(hP[1], 3, 47.5, "p=0.0021#", 5, -9); ann(hP[1], 3, 47.5, "**", 0, -3, 1);
ann(hP[2], 2, 84.5, "p=0.0001#", 1, -8); ann(hP[2], 2, 84.5, "***", 0, -2, 1);
ann(hP[2], 3, 81.5, "p=0.0376#", 8, -8); ann(hP[2], 3, 81.5, "*", 0, -3, 1);
ann(hP[3], 1, 21.3, "p=0.0034#", 4, -9); ann(hP[3], 1, 21.3, "**", 0, -3.5, 1);
ann(hP[3], 2, 20.3, "p=0.0011#", 15, -4); ann(hP[3], 2, 20.3, "**", -3, -3.5, 1);
ann(hP[3], 3, 14.1, "p=0.0005#", 3, -11); ann(hP[3], 3, 14.1, "***", 0, -4, 1);

// ---------------- I ----------------
label(3, 477, "I");
T(130, 477, "anti-HER2 CAR vs MCF-7 tumors", { fs: 8, a: "middle" });
const iSeries = (arr, sd) => [{ v: arr[0], c: INK, m: "circle" }, { v: arr[1], e: sd, c: BLUE, m: "tri", f: true }];
const iP = [
  linePanel({ ax: 23, yTop: 512, yBot: 600, yMax: 6, yTicks: [0, 2, 4, 6], xDom: [1, 3], xRng: [43, 77], xTicks: stims, xLen: 62, title: "IFNγ", stimDy: 18, series: iSeries(iIfn, iA1RSd[0]) }),
  linePanel({ ax: 103, yTop: 512, yBot: 600, yMax: 1, yTicks: [0, 0.2, 0.4, 0.6, 0.8, 1], fmt: fmt1, xDom: [1, 3], xRng: [123, 157], xTicks: stims, xLen: 62, title: "TNF", stimDy: 18, series: iSeries(iTnf, iA1RSd[1]) }),
  linePanel({ ax: 188, yTop: 512, yBot: 600, yMax: 15, yTicks: [0, 5, 10, 15], xDom: [1, 3], xRng: [213, 247], xTicks: stims, xLen: 64, title: "IL-2", stimDy: 18, series: iSeries(iIl2, iA1RSd[2]) })];
T(13, 556, "Cytokines secreted (ng/mL)", { rot: -90, a: "middle", fs: 7.5 });
ann(iP[0], 1, 0.8, "p=0.0003", 3, -12); ann(iP[0], 1, 0.8, "***", 0, -4, 1);
ann(iP[0], 2, 2.7, "p=0.0053", -4, -11); ann(iP[0], 2, 2.7, "**", 0, -4, 1);
ann(iP[0], 3, 4.3, "p=0.0202", 5, -18); ann(iP[0], 3, 4.3, "*", 0, -11, 1);
ann(iP[1], 1, 0.3, "p=0.0001", 11, -10); ann(iP[1], 1, 0.3, "****", 0, -3, 1);
ann(iP[1], 2, 0.72, "p=0.0162", 0, -21); ann(iP[1], 2, 0.72, "*", 0, -13, 1);
ann(iP[1], 3, 0.68, "p=0.0047", 6, -13); ann(iP[1], 3, 0.68, "**", -2, -7, 1);
ann(iP[2], 1, 2.3, "p=0.0001", 5, -10); ann(iP[2], 1, 2.3, "****", 0, -3, 1);
ann(iP[2], 2, 9.4, "p=0.0049", -2, -15); ann(iP[2], 2, 9.4, "**", 0, -6, 1);
legendItem(80, 632, "Control", INK, "circle", false);
legendItem(134, 632, "NR4A2/hA1R", BLUE, "tri", true);

// ---------------- J / K ----------------
function volcano(x0, x1, title, counts, gray, red, blue) {
  const x = d3.scaleLinear().domain([-6, 8.3]).range([x0, x1]);
  const y = d3.scaleLinear().domain([-0.3, 10.6]).range([616, 502]);
  const cx = (x0 + x1) / 2;
  T(cx, 481, title, { fs: 8, a: "middle" });
  const lc = x(-2.7), rc = x(3.4);
  T(lc, 489, "Decreased accesibility", { fs: 5.5, a: "middle", c: "#333" });
  T(lc, 496, "in NR4A2/hA1R", { fs: 5.5, a: "middle", c: "#333" });
  T(rc, 489, "Increased accesibility", { fs: 5.5, a: "middle", c: "#333" });
  T(rc, 496, "in NR4A2/hA1R", { fs: 5.5, a: "middle", c: "#333" });
  L(x(-1), 498.5, x0 + 6, 498.5, INK, 0.7);
  svg.append("path").attr("d", `M${x0 + 2},498.5 l4,-2 v4 z`).attr("fill", INK);
  L(x(1.2), 498.5, x1 - 6, 498.5, INK, 0.7);
  svg.append("path").attr("d", `M${x1 - 2},498.5 l-4,-2 v4 z`).attr("fill", INK);
  svg.append("rect").attr("x", x0).attr("y", 502).attr("width", x1 - x0).attr("height", 114).attr("fill", "none").attr("stroke", INK).attr("stroke-width", 0.8);
  const ya = svg.append("g").attr("transform", `translate(${x0},0)`).call(d3.axisLeft(y).tickValues([0, 2.5, 5, 7.5, 10]).tickFormat(d3.format(".1f")).tickSize(2).tickSizeOuter(0).tickPadding(1.5));
  styleAxis(ya, 5.5); ya.select(".domain").remove();
  const xa = svg.append("g").attr("transform", "translate(0,616)").call(d3.axisBottom(x).tickValues([-5, -2.5, 0, 2.5, 5, 7.5]).tickFormat(d3.format(".1f")).tickSize(2).tickSizeOuter(0).tickPadding(1.5));
  styleAxis(xa, 5.5); xa.select(".domain").remove();
  T(cx, 631, "log2FC", { fs: 6, a: "middle" });
  T(x0 - 14, 560, "-log10(FDR)", { rot: -90, a: "middle", fs: 6.5 });
  L(x(-1), 502, x(-1), 616, INK, 0.8, "3,2.5"); L(x(1), 502, x(1), 616, INK, 0.8, "3,2.5");
  L(x(0), 502, x(0), 616, INK, 0.8);
  L(x0, y(1.3), x1, y(1.3), "#555", 0.8, "3,2.5");
  const dots = (arr, c) => svg.selectAll(null).data(arr).join("circle").attr("cx", d => x(d[0])).attr("cy", d => y(d[1])).attr("r", 1.2).attr("fill", c);
  dots(gray, "#bdbdbd"); dots(blue, "#3c55a5"); dots(red, "#e0262f");
  T(x0 + 4, 511, counts[0], { fs: 6, c: "#5066b3" });
  T(x1 - 4, 511, counts[1], { fs: 6, a: "end", c: "#e0434d" });
}
label(282, 477, "J");
volcano(306, 442, "No Tumor Stim", jCounts, jGray, jRed, jBlue);
label(464, 483, "K");
volcano(482, 618, "Tumor Stim", kCounts, kGray, kRedRows.flatMap(r => r[1].map(v => [v, r[0]])), kBlue);

// ---------------- L ----------------
label(3, 657, "L");
T(32, 656, "Enriched Motifs in NR4A2/A1R", { fs: 7.5 });
{
  const x = d3.scaleLinear().domain([0, 300]).range([39, 121]);
  const y = d3.scaleLinear().domain([0, 400]).range([777, 698]);
  svg.append("rect").attr("x", 37).attr("y", 663).attr("width", 91).attr("height", 118).attr("fill", "none").attr("stroke", INK).attr("stroke-width", 0.8);
  const ya = svg.append("g").attr("transform", "translate(37,0)").call(d3.axisLeft(y).tickValues([0, 200, 400]).tickSize(2).tickSizeOuter(0).tickPadding(1));
  styleAxis(ya, 5.5); ya.select(".domain").remove();
  const xa = svg.append("g").attr("transform", "translate(0,781)").call(d3.axisBottom(x).tickValues([0, 100, 200, 300]).tickSize(2).tickSizeOuter(0).tickPadding(1.2));
  styleAxis(xa, 5.5); xa.select(".domain").remove();
  svg.append("path").datum(lBgRanks.map((r, i) => [r, lBgVals[i]])).attr("d", d3.line().x(d => x(d[0])).y(d => y(d[1])))
    .attr("fill", "none").attr("stroke", "#cfcfcf").attr("stroke-width", 4.5);
  svg.selectAll(null).data(lMotifRanks).join("circle").attr("cx", d => x(d)).attr("cy", (d, i) => y(lMotifVals[i])).attr("r", 2.3).attr("fill", "#e0262f");
  const labelY = [667, 673, 679, 686, 717, 744, 754, 760, 765.5, 771];
  lLabels.forEach((l, i) => T(x(lLabelRanks[i]) + 3, labelY[i], l, { fs: 5.6, c: "#333" }));
  T(74, 799, "Rank", { fs: 7.5, a: "middle" });
  T(16, 715, "−log p−value", { rot: -90, a: "middle", fs: 9 });
}

// ---------------- M ----------------
label(146, 657, "M");
{
  const x = d3.scaleLinear().domain([-2, 2]).range([175, 282]);
  const y = d3.scaleLinear().domain([-2, 2]).range([772, 684]);
  styleAxis(svg.append("g").attr("transform", "translate(170,0)").call(d3.axisLeft(y).tickValues([-2, -1, 0, 1, 2]).tickFormat(fmtInt).tickSize(2).tickSizeOuter(0).tickPadding(1.5)), 6);
  L(170, 662, 170, 778);
  const xa = svg.append("g").attr("transform", "translate(0,778)").call(d3.axisBottom(x).tickValues([-2, -1, 0, 1, 2]).tickFormat(fmtInt).tickSize(2).tickSizeOuter(0).tickPadding(1.2));
  styleAxis(xa, 6); xa.select(".domain").remove();
  L(170, 778, 292, 778);
  const defs = svg.append("defs");
  [["aBlue", "#4a67b3"], ["aRed", "#e0262f"], ["aBlack", "#111"]].forEach(m => defs.append("marker").attr("id", m[0])
    .attr("viewBox", "0 0 10 10").attr("refX", 8).attr("refY", 5).attr("markerWidth", 5).attr("markerHeight", 5).attr("orient", "auto")
    .append("path").attr("d", "M0,0 L10,5 L0,10 z").attr("fill", m[1]));
  const arrows = (arr, c, id) => svg.selectAll(null).data(arr).join("line")
    .attr("x1", d => x(d[0][0])).attr("y1", d => y(d[0][1])).attr("x2", d => x(d[1][0])).attr("y2", d => y(d[1][1]))
    .attr("stroke", c).attr("stroke-width", 0.9).attr("marker-end", `url(#${id})`);
  arrows(mArrowsA1R, "#4a67b3", "aBlue"); arrows(mArrowsKO, "#e0262f", "aRed"); arrows(mArrowsCtrl, "#111", "aBlack");
  const pts = (arr, c) => svg.selectAll(null).data(arr).join("circle").attr("cx", d => x(d[0])).attr("cy", d => y(d[1])).attr("r", 4)
    .attr("fill", "none").attr("stroke", c).attr("stroke-width", 0.9);
  pts(mCtrl, "#111"); pts(mKO, "#e0262f"); pts(mA1R, "#4a67b3");
  const st = (xx, yy, s) => T(xx, yy, s, { fs: 5.5, c: "#333" });
  st(172, 702, "Stim 1"); st(212, 669, "Stim 2"); st(253, 669, "Stim 3");
  st(186, 755, "Stim 1"); st(234, 737, "Stim 2"); st(272, 737, "Stim 3");
  T(231, 795, "PC1 (62.3% explained var.)", { fs: 6.5, a: "middle" });
  T(156, 722, "PC2 (13.5% explained var.)", { rot: -90, a: "middle", fs: 6.5 });
  const mCols = ["#111", "#e0262f", "#4a67b3"];
  const mLegX = [189, 217, 250];
  mGroups.forEach((gname, i) => {
    svg.append("circle").attr("cx", mLegX[i]).attr("cy", 803).attr("r", 2.5).attr("fill", "none").attr("stroke", mCols[i]).attr("stroke-width", 0.8);
    T(mLegX[i] + 3.8, 805.3, gname, { fs: 5.8 });
  });
}

// ---------------- N ----------------
label(299, 657, "N");
T(318, 656, "NR4A2/hA1R vs NR4A2 KO", { fs: 7.5 });
{
  const x = d3.scalePoint().domain(nCats).range([347, 401]);
  const y = d3.scaleLinear().domain([-2000, 2000]).range([778, 665]);
  styleAxis(svg.append("g").attr("transform", "translate(333,0)").call(d3.axisLeft(y).tickValues([-2000, -1000, 0, 1000, 2000]).tickFormat(fmtInt).tickSize(2.5).tickSizeOuter(0).tickPadding(1.5)), 6.5);
  svg.selectAll(null).data(nCats).join("rect").attr("x", d => x(d) - 5.5).attr("width", 11)
    .attr("y", (d, i) => y(nUp[i])).attr("height", (d, i) => y(0) - y(nUp[i])).attr("fill", "#e3242b");
  svg.selectAll(null).data(nCats).join("rect").attr("x", d => x(d) - 5.5).attr("width", 11)
    .attr("y", y(0)).attr("height", (d, i) => y(nDn[i]) - y(0)).attr("fill", "#2d4ea0");
  L(333, y(0), 415, y(0), INK, 0.9);
  L(333, 778, 412, 778);
  nCats.forEach(c => { L(x(c), 778, x(c), 780.5, INK, 0.7); T(x(c) + 2, 784, c, { fs: 6.2, a: "end", rot: -45 }); });
  svg.append("rect").attr("x", 339).attr("y", 663).attr("width", 10).attr("height", 6.5).attr("fill", "#e3242b");
  svg.append("rect").attr("x", 339).attr("y", 670).attr("width", 10).attr("height", 6.5).attr("fill", "#2d4ea0");
  T(352, 669, "UP", { fs: 6.5 }); T(352, 676.5, "DN", { fs: 6.5 });
  T(323, 722, "No. of DEGs", { rot: -90, a: "middle", fs: 7 });
}

// ---------------- O ----------------
label(428, 657, "O");
T(508, 654, "A1R signature upregulated DEGs", { fs: 6.5, a: "middle" });
T(633, 654, "A1R signature down-regulated DEGs", { fs: 6.5, a: "middle" });
function violins(o) {
  const x = d3.scalePoint().domain(oCats).range(o.xr);
  const ya = svg.append("g").attr("transform", `translate(${o.ax},0)`).call(d3.axisLeft(o.y).tickValues(o.ticks).tickSize(2.5).tickSizeOuter(0).tickPadding(1.5));
  styleAxis(ya, 6.5); ya.select(".domain").remove();
  L(o.ax, o.top, o.ax, 780); L(o.ax, 780, o.ax + 100, 780);
  L(o.ax, o.y(0), o.ax + o.zlen, o.y(0), INK, 0.8);
  oCats.forEach((c, i) => {
    const cx = x(c);
    const area = d3.area().y(d => o.y(d[0])).x0(d => cx - d[1] * 11).x1(d => cx + d[1] * 11).curve(d3.curveBasis);
    svg.append("path").attr("d", area(o.shapes[i])).attr("fill", "none").attr("stroke", "#555").attr("stroke-width", 0.6);
    const b = o.box[i];
    L(cx, o.y(b[3]), cx, o.y(b[4]), "#555", 0.5);
    svg.append("rect").attr("x", cx - 1.8).attr("width", 3.6).attr("y", o.y(b[2])).attr("height", o.y(b[0]) - o.y(b[2]))
      .attr("fill", "white").attr("stroke", "#555").attr("stroke-width", 0.5);
    L(cx - 1.8, o.y(b[1]), cx + 1.8, o.y(b[1]), "#555", 0.6);
    T(cx, 789, c, { fs: 6.5, a: "middle" });
  });
  svg.append("circle").attr("cx", x(oCats[0])).attr("cy", o.y(o.outlier)).attr("r", 1.4).attr("fill", "#777");
  T(o.ax - 15, 722, "logFC (relative to NR4A2KO)", { rot: -90, a: "middle", fs: 6.5 });
  return x;
}
function sigBar(x1, x2, y, txt, pTxt, pDx, pDy) {
  svg.append("path").attr("d", `M${x1},${y + 3}V${y}H${x2}V${y + 3}`).attr("fill", "none").attr("stroke", "#444").attr("stroke-width", 0.6);
  if (txt) T((x1 + x2) / 2, y - 1, txt, { fs: 6, a: "middle", c: "#333" });
  if (pTxt) T((x1 + x2) / 2 + pDx, y + pDy, pTxt, { fs: 5.5, a: "middle", c: PG });
}
{
  const yU = d3.scaleLinear().domain([0, 4]).range([761, 685]);
  const xu = violins({ ax: 462, xr: [475, 545], y: yU, ticks: [0, 1, 2, 3, 4], top: 667, zlen: 96, shapes: oUpShapes, box: oUpBox, outlier: oUpOutlier });
  sigBar(xu("no stim"), xu("1"), 701, "**", "p=0.003", 4, 7);
  sigBar(xu("no stim"), xu("2"), 694, "***", "p=0.0001", -4, -7);
  sigBar(xu("2"), xu("3"), 675, "**", "p=0.0013", 0, 7);
  sigBar(xu("1"), xu("3"), 669, "****");
  sigBar(xu("no stim"), xu("3"), 663, "****");
  const yD = d3.scaleLinear().domain([-1, 0.5]).range([761, 685]);
  const xd = violins({ ax: 588, xr: [603, 673], y: yD, ticks: [-1, -0.5, 0, 0.5], top: 668, zlen: 100, shapes: oDnShapes, box: oDnBox, outlier: oDnOutlier });
  sigBar(xd("no stim"), xd("3"), 661, "****", "p=0.00047", 48, 1.5);
  sigBar(xd("1"), xd("3"), 667, "***", "p=0.010", 33, 3);
  sigBar(xd("2"), xd("3"), 673, "*");
}

// ---------------- P / Q (GSEA) ----------------
const gsX = [[19, 148], [173, 299], [312, 437], [451, 581], [597, 724]];
const gsSubX = [20, 164, 309, 449, 597];
const defs2 = svg.append("defs");
const grad = defs2.append("linearGradient").attr("id", "rankGrad");
[[0, "#d3301f"], [0.3, "#e66a52"], [0.5, "#f7c9b9"], [0.62, "#ffffff"], [0.76, "#cfe0f0"], [1, "#2c6db3"]]
  .forEach(s => grad.append("stop").attr("offset", s[0]).attr("stop-color", s[1]));
function gseaRow(o) {
  label(1, o.titleY + 2, o.letter);
  T(18, o.titleY, o.title, { fs: 8, b: true });
  T(6, (o.top + o.cbBot) / 2, "Running Enrichment Score", { rot: -90, a: "middle", fs: 5.5, c: "#555" });
  gsNames.forEach((nm, i) => {
    const [x0, x1] = gsX[i];
    const x = d3.scaleLinear().domain([0, 1]).range([x0, x1]);
    const ext = d3.extent(o.curves[i], d => d[1]);
    const pad = (ext[1] - ext[0]) * 0.06;
    const y = d3.scaleLinear().domain([ext[0] - pad, ext[1] + pad]).range([o.bot, o.top]);
    T(gsSubX[i], o.top - 2.5, nm, { fs: i === 0 ? 5.6 : 6.5, c: "#222" });
    [0.25, 0.5, 0.75].forEach(f => L(x(f), o.top, x(f), o.bot, "#ececec", 0.6));
    y.ticks(4).forEach(t => T(x0 - 1.5, y(t) + 1.5, d3.format(".1f")(t), { fs: 4.3, a: "end", c: "#555" }));
    svg.append("path").datum(o.curves[i]).attr("d", d3.line().x(d => x(d[0])).y(d => y(d[1])))
      .attr("fill", "none").attr("stroke", "#7dbb3c").attr("stroke-width", 0.9);
    T(x1 - 2, o.top + 11, "NES=" + o.nes[i], { fs: 5.5, a: "end" });
    T(x1 - 2, o.top + 18, "Adj.P.Val=" + o.padj[i], { fs: 5.5, a: "end" });
    svg.selectAll(null).data(o.hits[i]).join("line").attr("x1", d => x(d)).attr("x2", d => x(d))
      .attr("y1", o.bcTop).attr("y2", o.cbTop).attr("stroke", "#111").attr("stroke-width", 0.9);
    svg.append("rect").attr("x", x0).attr("y", o.cbTop).attr("width", x1 - x0).attr("height", o.cbBot - o.cbTop).attr("fill", "url(#rankGrad)");
  });
}
gseaRow({ letter: "P", title: "NR4A2/hA1R vs Control (Stim 1)", titleY: 813, top: 826, bot: 876, bcTop: 878, cbTop: 897, cbBot: 904, curves: pCurves, hits: pHits, nes: pNES, padj: pPadj });
gseaRow({ letter: "Q", title: "NR4A2/hA1R vs NR4A2KO (Stim 1)", titleY: 914, top: 928, bot: 976, bcTop: 978, cbTop: 990.5, cbBot: 996.5, curves: qCurves, hits: qHits, nes: qNES, padj: qPadj });
</script>
</body>
</html>
